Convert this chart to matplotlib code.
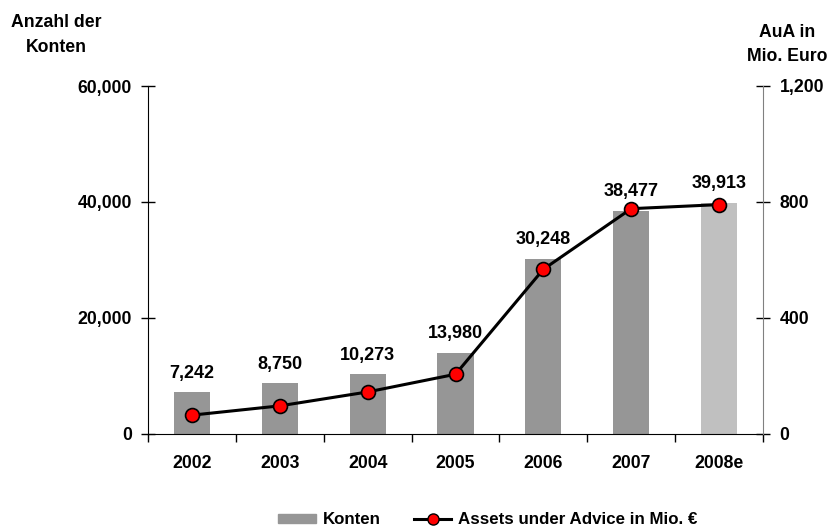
import matplotlib
matplotlib.use("Agg")
import matplotlib.pyplot as plt
from matplotlib.lines import Line2D
from matplotlib.patches import Patch

plt.rcParams['font.family'] = ['Liberation Sans', 'DejaVu Sans']
plt.rcParams['font.weight'] = 'bold'

years = ["2002", "2003", "2004", "2005", "2006", "2007", "2008e"]
konten = [7242, 8750, 10273, 13980, 30248, 38477, 39913]
aua = [65, 97, 145, 206, 568, 777, 791]
bar_colors = ["#969696"] * 6 + ["#c0c0c0"]
left_ticks = [0, 20000, 40000, 60000]
right_ticks = [0, 400, 800, 1200]

fig = plt.figure(figsize=(8.33, 5.29), dpi=100)
ax = fig.add_axes([148/833, 1-434/529, (763-148)/833, (434-86)/529])
x = list(range(len(years)))
ax.bar(x, konten, width=0.41, color=bar_colors, zorder=1)
ax.set_xlim(-0.5, len(years)-0.5)
ax.set_ylim(0, 60000)
ax.set_yticks(left_ticks)
ax.set_yticklabels([f"{v:,}" for v in left_ticks])
ax.set_xticks(x)
ax.set_xticklabels(years)
ax.set_xticks([i + 0.5 for i in range(-1, len(years))], minor=True)
ax.tick_params(axis='x', which='major', length=0, pad=15, labelsize=12.7)
ax.tick_params(axis='x', which='minor', length=6, direction='out', width=1)
ax.tick_params(axis='y', direction='inout', length=10, width=1, pad=6.5, labelsize=12.7)
for s in ['top', 'right']:
    ax.spines[s].set_visible(False)

for xi, v in zip(x, konten):
    ax.annotate(f"{v:,}", (xi, v), xytext=(0, 7.5), textcoords='offset points',
                ha='center', va='bottom', fontsize=13, fontweight='bold')

ax2 = ax.twinx()
ax2.plot(x, aua, color='black', linewidth=2.2, marker='o', markersize=10,
         markerfacecolor='#ff0000', markeredgecolor='black', markeredgewidth=1.2, zorder=3)
ax2.set_ylim(0, 1200)
ax2.set_yticks(right_ticks)
ax2.set_yticklabels([f"{v:,}" for v in right_ticks])
ax2.tick_params(axis='y', direction='inout', length=10, width=1, pad=7, labelsize=12.7)
for s in ['top', 'left', 'bottom']:
    ax2.spines[s].set_visible(False)
ax2.spines['right'].set_color('#808080')

fig.text(56/833, 1-14/529, "Anzahl der\nKonten", ha='center', va='top',
         fontsize=12.7, fontweight='bold', linespacing=1.6)
fig.text(787/833, 1-24/529, "AuA in\nMio. Euro", ha='center', va='top',
         fontsize=12.7, fontweight='bold', linespacing=1.55)

handles = [Patch(color='#969696'),
           Line2D([0], [0], color='black', linewidth=2.2, marker='o', markersize=8,
                  markerfacecolor='#ff0000', markeredgecolor='black')]
fig.legend(handles, ["Konten", "Assets under Advice in Mio. €"], loc='center',
           bbox_to_anchor=(488/833, 1-520/529), ncol=2, frameon=False,
           prop={'size': 12.2, 'weight': 'bold'}, handlelength=2.2, handleheight=0.5,
           columnspacing=2.0, handletextpad=0.4, borderpad=0)

fig.savefig("out.png", dpi=100)
